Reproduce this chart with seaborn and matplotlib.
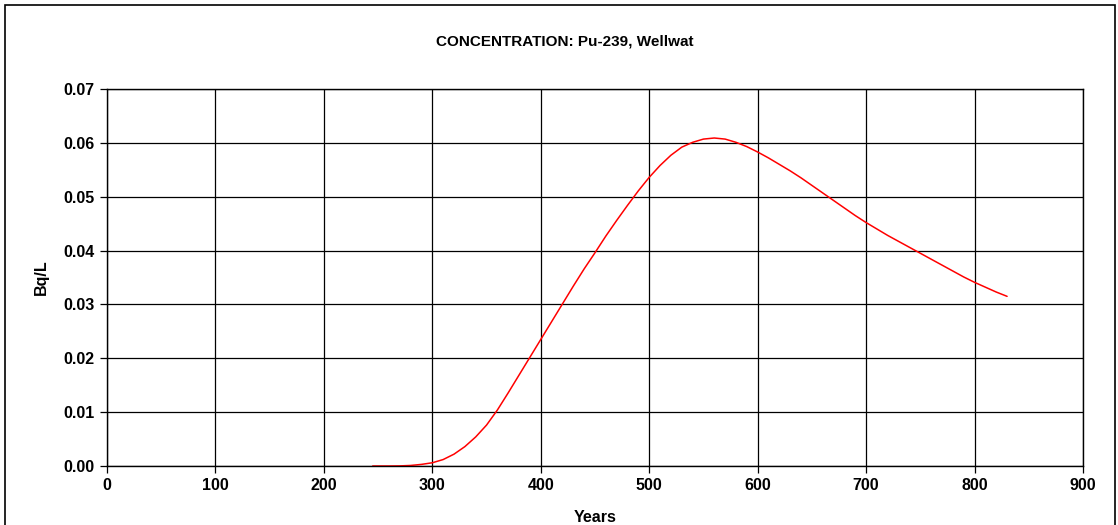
import matplotlib
matplotlib.use("Agg")
import matplotlib.pyplot as plt
import seaborn as sns
import pandas as pd
from matplotlib.patches import Rectangle

years = [245, 260, 270, 280, 290, 300, 310, 320, 330, 340, 350, 360, 370, 380, 390,
         400, 410, 420, 430, 440, 450, 460, 470, 480, 490, 500, 510, 520, 530, 540,
         550, 560, 570, 580, 590, 600, 610, 620, 630, 640, 650, 660, 670, 680, 690,
         700, 710, 720, 730, 740, 750, 760, 770, 780, 790, 800, 810, 820, 830]
conc = [0.0, 0.0, 0.00002, 0.0001, 0.0003, 0.0006, 0.0012, 0.0022, 0.0036, 0.0054,
        0.0076, 0.0104, 0.0136, 0.0169, 0.0202, 0.0235, 0.0268, 0.0301, 0.0334, 0.0366,
        0.0396, 0.0427, 0.0456, 0.0484, 0.0511, 0.0536, 0.0558, 0.0577, 0.0592, 0.0601,
        0.0607, 0.0609, 0.0607, 0.0601, 0.0593, 0.0583, 0.0572, 0.0560, 0.0548, 0.0535,
        0.0521, 0.0507, 0.0493, 0.0479, 0.0465, 0.0452, 0.0440, 0.0428, 0.0417, 0.0406,
        0.0395, 0.0384, 0.0373, 0.0362, 0.0351, 0.0341, 0.0332, 0.0323, 0.0315]

x_ticks = [0, 100, 200, 300, 400, 500, 600, 700, 800, 900]
y_ticks = [0.00, 0.01, 0.02, 0.03, 0.04, 0.05, 0.06, 0.07]
title = "CONCENTRATION: Pu-239, Wellwat"

sns.set_style("white")
plt.rcParams["font.family"] = ["Liberation Sans", "DejaVu Sans"]
plt.rcParams.update({"text.color": "black", "axes.labelcolor": "black",
                     "xtick.color": "black", "ytick.color": "black"})

fig = plt.figure(figsize=(11.18, 5.25), dpi=100)
ax = fig.add_axes([107/1118, 1-466/525, (1083-107)/1118, (466-89)/525])

df = pd.DataFrame({"Years": years, "Bq/L": conc})
sns.lineplot(data=df, x="Years", y="Bq/L", ax=ax, color="#ff0000", linewidth=1.1)

ax.set_xlim(0, 900)
ax.set_ylim(0, 0.07)
ax.set_xticks(x_ticks)
ax.set_yticks(y_ticks)
ax.set_xticklabels([str(t) for t in x_ticks], fontsize=11.5, fontweight="bold")
ax.set_yticklabels([f"{t:.2f}" for t in y_ticks], fontsize=11.5, fontweight="bold")
ax.grid(True, color="black", linewidth=0.9)
ax.set_axisbelow(True)
for s in ax.spines.values():
    s.set_color("black")
    s.set_linewidth(1.0)
ax.tick_params(axis="both", direction="out", length=5, width=0.9, color="black",
               labelcolor="black", bottom=True, left=True, pad=4)
ax.set_xlabel("Years", fontsize=11.5, fontweight="bold", labelpad=12, color="black")
ax.set_ylabel("Bq/L", fontsize=11.5, fontweight="bold", labelpad=10, color="black")

fig.text(565/1118, 1-42/525, title, ha="center", va="center",
         fontsize=11, fontweight="bold", color="black")

fig.patches.append(Rectangle((5/1118, -0.05), 1110/1118, 1.05 - 5/525, transform=fig.transFigure,
                             fill=False, edgecolor="black", linewidth=1.2))

fig.savefig("out.png", dpi=100)
